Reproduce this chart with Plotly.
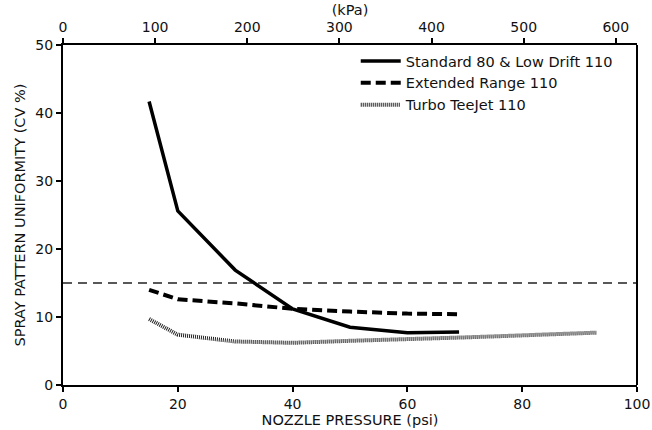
import plotly.graph_objects as go

std_x = [15, 20, 30, 40, 50, 60, 69]
std_y = [41.7, 25.6, 16.9, 11.2, 8.5, 7.7, 7.8]
ext_x = [15, 20, 30, 40, 50, 60, 69]
ext_y = [14.0, 12.6, 12.0, 11.2, 10.8, 10.5, 10.4]
tur_x = [15, 20, 30, 40, 50, 60, 70, 80, 93]
tur_y = [9.7, 7.4, 6.4, 6.2, 6.5, 6.7, 7.0, 7.3, 7.7]
ref_x = [0, 100]
ref_y = [15, 15]
kpa_ticks = [0, 100, 200, 300, 400, 500, 600]

FONT = "DejaVu Sans, Arial, sans-serif"

fig = go.Figure()
fig.add_trace(go.Scatter(x=ref_x, y=ref_y, mode="lines", showlegend=False,
                         line=dict(color="#222", width=1.5, dash="9px,6px")))
fig.add_trace(go.Scatter(x=std_x, y=std_y, mode="lines", name="Standard 80 & Low Drift 110",
                         line=dict(color="black", width=3.5)))
fig.add_trace(go.Scatter(x=ext_x, y=ext_y, mode="lines", name="Extended Range 110",
                         line=dict(color="black", width=4, dash="10px,5px")))
fig.add_trace(go.Scatter(x=tur_x, y=tur_y, mode="lines", name="Turbo TeeJet 110",
                         line=dict(color="#222", width=4, dash="1px,1px")))
fig.add_trace(go.Scatter(x=[0, 623], y=[None, None], xaxis="x2", showlegend=False,
                         mode="lines", hoverinfo="skip"))

axis_common = dict(showline=True, linecolor="black", linewidth=2,
                   ticks="outside", ticklen=5, tickwidth=2, tickcolor="black",
                   showgrid=False, zeroline=False, automargin=False,
                   tickfont=dict(size=14))

fig.update_layout(
    width=652, height=430,
    margin=dict(l=63, r=15, t=45, b=45, autoexpand=False),
    paper_bgcolor="white", plot_bgcolor="white",
    font=dict(family=FONT, size=14, color="#111"),
    showlegend=True,
    legend=dict(x=0.51, y=1.0, xanchor="left", yanchor="top",
                bgcolor="rgba(255,255,255,0)", font=dict(size=14.5, family=FONT),
                tracegroupgap=0, itemwidth=40),
    xaxis=dict(range=[0, 100], tickvals=[0, 20, 40, 60, 80, 100], **axis_common,
               title=dict(text="NOZZLE PRESSURE (psi)", font=dict(size=14.5), standoff=4)),
    xaxis2=dict(range=[0, 623], overlaying="x", side="top", tickvals=kpa_ticks, **axis_common,
                title=dict(text="(kPa)", font=dict(size=14.5), standoff=0)),
    yaxis=dict(range=[0, 50], tickvals=[0, 10, 20, 30, 40, 50], **axis_common,
               title=dict(text="SPRAY PATTERN UNIFORMITY (CV %)", font=dict(size=14.5), standoff=6)),
    shapes=[dict(type="line", xref="paper", yref="paper", x0=1, x1=1, y0=0, y1=1,
                 line=dict(color="black", width=2))],
)

fig.write_html("out.html")
